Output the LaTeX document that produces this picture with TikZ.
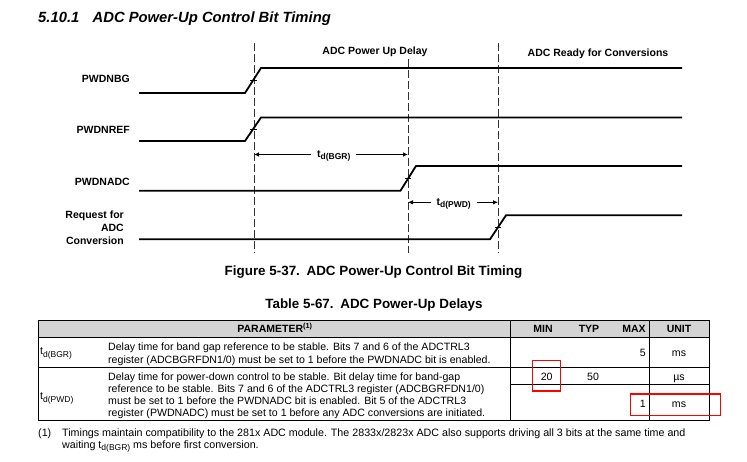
\documentclass[tikz,border=0pt]{standalone}
\usepackage{fontspec}
\setmainfont{Liberation Sans}
\usetikzlibrary{arrows.meta}
\newcommand{\mysub}[1]{\raisebox{-2.6pt}{\fontsize{8.5}{9}\selectfont #1}}
\begin{document}
\begin{tikzpicture}[x=1pt,y=-1pt,
  sig/.style={line width=1.8pt, line join=miter},
  vdash/.style={line width=0.8pt, dash pattern=on 8pt off 3pt, draw=black!80},
  tick/.style={line width=0.6pt},
  lbl/.style={font=\fontsize{10.5}{13}\selectfont\bfseries, inner sep=0pt, text height=7.6pt, text depth=0pt},
  lblm/.style={font=\fontsize{10.5}{13}\selectfont\bfseries, inner sep=0pt},
  dim/.style={line width=0.8pt, {Latex[length=5pt,width=4.5pt]}-{Latex[length=5pt,width=4.5pt]}},
  dimlbl/.style={font=\fontsize{10.5}{12}\selectfont\bfseries, fill=white, inner xsep=6pt, inner ysep=1pt},
  txt/.style={font=\fontsize{10.6}{12}\selectfont, inner sep=0pt, text height=7.6pt, text depth=0pt},
  fntxt/.style={font=\fontsize{10.7}{12}\selectfont, inner sep=0pt, text height=7.7pt, text depth=0pt},
  hdr/.style={font=\fontsize{10.5}{12}\selectfont\bfseries, inner sep=0pt, text height=7.6pt, text depth=0pt},
  captxt/.style={font=\fontsize{13.4}{15}\selectfont\bfseries, inner sep=0pt, text height=9.6pt, text depth=0pt},
  tline/.style={line width=0.9pt},
  redbox/.style={draw=red, line width=1.5pt}
]
\useasboundingbox (0,0) rectangle (747,462);

% title
\node[anchor=west, font=\fontsize{14.8}{16}\selectfont\bfseries\itshape, inner sep=0pt, text height=10.6pt, text depth=0pt] (title) at (38,17) {5.10.1\hspace{0.9em}ADC Power-Up Control Bit Timing};

% phase labels
\node[lbl] (phase1) at (375,50.5) {ADC Power Up Delay};
\node[lbl] (phase2) at (598,53) {ADC Ready for Conversions};

% dashed reference lines
\coordinate (d1t) at (254,43);  \coordinate (d1b) at (254,253);
\coordinate (d2t) at (408,59);  \coordinate (d2b) at (408,253);
\coordinate (d3t) at (498,43);  \coordinate (d3b) at (498,253);
\draw[vdash] (d1t) -- (d1b);
\draw[vdash] (d2t) -- (d2b);
\draw[vdash] (d3t) -- (d3b);

% signal labels
\node[lbl, anchor=east] (lbg) at (130,79) {PWDNBG};
\node[lbl, anchor=east] (lref) at (130,130) {PWDNREF};
\node[lbl, anchor=east] (ladc) at (130,182) {PWDNADC};
\node[lblm, anchor=east, align=right] (lreq) at (124,228) {Request for\\ADC\\Conversion};

% signals
\draw[sig] (139,93) -- (245,93) -- (261,68) -- (682,68);
\draw[tick] (250,80.5) -- (256.5,80.5);
\draw[sig] (139,141) -- (245,141) -- (261,117.5) -- (682,117.5);
\draw[tick] (250,129.2) -- (256.5,129.2);
\draw[sig] (139,190.7) -- (400.5,190.7) -- (416,166) -- (682,166);
\draw[tick] (404.5,178.3) -- (411,178.3);
\draw[sig] (139,239.3) -- (490,239.3) -- (506,215.3) -- (682,215.3);
\draw[tick] (494.5,227.3) -- (501,227.3);

% dimension arrows
\coordinate (bgrL) at (254,154.5); \coordinate (bgrR) at (408,154.5);
\draw[dim] (bgrL) -- (bgrR) node[dimlbl, midway, xshift=2.8pt, yshift=-1.5pt] (tbgr) {t\mysub{d(BGR)}};
\coordinate (pwdL) at (408,202.3); \coordinate (pwdR) at (498,202.3);
\draw[dim] (pwdL) -- (pwdR) node[dimlbl, midway, xshift=0.7pt, yshift=-1.5pt] (tpwd) {t\mysub{d(PWD)}};

% captions
\node[captxt] (figcap) at (373.5,271) {Figure 5-37.\hspace{0.5em}ADC Power-Up Control Bit Timing};
\node[captxt] (tabcap) at (374,304) {Table 5-67.\hspace{0.5em}ADC Power-Up Delays};

% table
\fill[black!17] (38,320.7) rectangle (709,337);
\draw[tline] (38,320.7) rectangle (709,420);
\draw[tline] (38,337) -- (709,337);
\draw[tline] (38,367) -- (709,367);
\draw[tline] (510.7,320.7) -- (510.7,420);
\draw[tline] (649,320.7) -- (649,420);
\draw[tline] (510.7,384.7) -- (709,384.7);

% header
\node[hdr] (hpar) at (275,329) {PARAMETER\textsuperscript{(1)}};
\node[hdr] (hmin) at (543,329) {MIN};
\node[hdr] (htyp) at (589,329) {TYP};
\node[hdr] (hmax) at (634,329) {MAX};
\node[hdr] (hunit) at (679,329) {UNIT};

% row 1
\node[txt, anchor=west] (s1) at (40,351) {t\mysub{d(BGR)}};
\node[txt, anchor=west] (r1a) at (108,347) {Delay time for band gap reference to be stable. Bits 7 and 6 of the ADCTRL3};
\node[txt, anchor=west] (r1b) at (108,359.5) {register (ADCBGRFDN1/0) must be set to 1 before the PWDNADC bit is enabled.};
\node[txt, anchor=east] (r1max) at (646,353) {5};
\node[txt] (r1unit) at (679,353) {ms};

% row 2
\node[txt, anchor=west] (s2) at (40,396) {t\mysub{d(PWD)}};
\node[txt, anchor=west] (r2a) at (108,376.7) {Delay time for power-down control to be stable. Bit delay time for band-gap};
\node[txt, anchor=west] (r2b) at (108,388.7) {reference to be stable. Bits 7 and 6 of the ADCTRL3 register (ADCBGRFDN1/0)};
\node[txt, anchor=west] (r2c) at (108,400.5) {must be set to 1 before the PWDNADC bit is enabled. Bit 5 of the ADCTRL3};
\node[txt, anchor=west] (r2d) at (108,412.3) {register (PWDNADC) must be set to 1 before any ADC conversions are initiated.};
\node[txt] (r2min) at (546.7,377) {20};
\node[txt] (r2typ) at (593,377) {50};
\node[txt] (r2unit) at (679,377) {µs};
\node[txt, anchor=east] (r2max) at (646,403.3) {1};
\node[txt] (r2unit2) at (679,403.3) {ms};

% red highlight boxes
\draw[redbox] (532.7,360.7) rectangle (560.3,391);
\draw[redbox] (630.7,394) rectangle (720.3,415.3);

% footnote
\node[fntxt, anchor=west] (fn1) at (38,432.7) {(1)};
\node[fntxt, anchor=west] (fn2) at (62,432.7) {Timings maintain compatibility to the 281x ADC module. The 2833x/2823x ADC also supports driving all 3 bits at the same time and};
\node[fntxt, anchor=west] (fn3) at (62,444.5) {waiting t\mysub{d(BGR)} ms before first conversion.};
\end{tikzpicture}
\end{document}
